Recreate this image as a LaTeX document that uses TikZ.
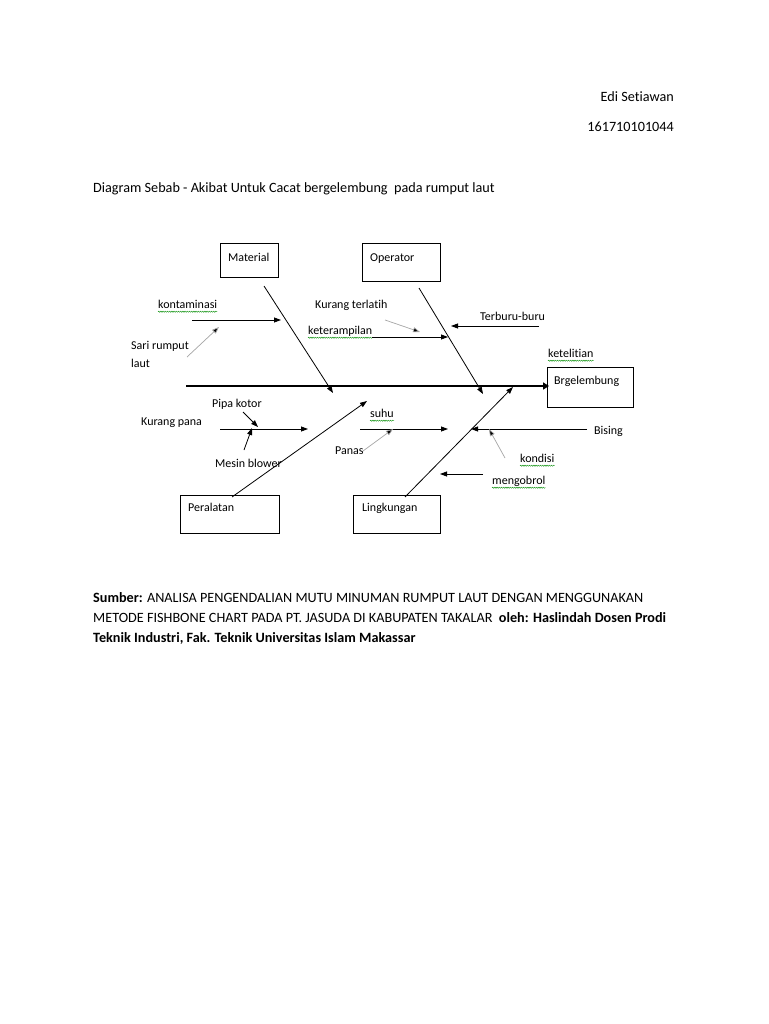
\documentclass[tikz,border=0pt]{standalone}
\usepackage{fontspec}
\setmainfont{Carlito}[Ligatures=NoCommon]
\usetikzlibrary{arrows.meta,decorations.pathmorphing}
\begin{document}
\begin{tikzpicture}[x=1pt,y=-1pt,
  txt/.style={inner sep=0pt,anchor=west,text height=8.5pt,text depth=2.5pt,font=\fontsize{12}{14}\selectfont},
  doc/.style={inner sep=0pt,text height=10pt,text depth=3pt,font=\fontsize{14.2}{17}\selectfont},
  catbox/.style={draw,line width=0.8pt},
  bone/.style={line width=0.8pt,-{Triangle[length=7pt,width=5pt]}},
  sub/.style={line width=0.8pt,-{Triangle[length=7pt,width=5pt]}},
  hint/.style={gray!70,line width=0.7pt,-{Triangle[length=7pt,width=5pt,fill=black]}},
  spine/.style={line width=2.6pt,-{Triangle[length=6pt,width=7pt]}},
  squig/.style={green!55!black,line width=0.4pt,decorate,decoration={snake,amplitude=0.6pt,segment length=2.2pt}}
]
\useasboundingbox[fill=white] (0,0) rectangle (768,1024);

% header
\node[doc,anchor=east] (name) at (674,98) {Edi Setiawan};
\node[doc,anchor=east] (nim) at (674,128) {161710101044};
\node[doc,anchor=west] (title) at (93,189) {Diagram Sebab - Akibat Untuk Cacat bergelembung\ \ pada rumput laut};

% category boxes
\draw[catbox] (220,243) rectangle (278,277);
\node[txt] (mat) at (228,258) {Material};
\draw[catbox] (362,243) rectangle (440,281);
\node[txt] (ope) at (370,258) {Operator};
\draw[catbox] (180,495) rectangle (279,533);
\node[txt] (per) at (188,508) {Peralatan};
\draw[catbox] (353,495) rectangle (440,533);
\node[txt] (lin) at (362,508) {Lingkungan};
\draw[catbox] (547,367) rectangle (633,407);
\node[txt] (eff) at (554,381) {Brgelembung};

% spine
\coordinate (sp0) at (186,386);
\coordinate (sp1) at (549,386);
\draw[spine] (sp0) -- (sp1);

% main bones
\coordinate (mb0) at (264,286); \coordinate (mb1) at (333,393);
\coordinate (ob0) at (419,288); \coordinate (ob1) at (483,394);
\coordinate (pb0) at (232,497); \coordinate (pb1) at (367,401);
\coordinate (lb0) at (405,497); \coordinate (lb1) at (513,387);
\draw[bone] (mb0) -- (mb1);
\draw[bone] (ob0) -- (ob1);
\draw[bone] (pb0) -- (pb1);
\draw[bone] (lb0) -- (lb1);

% labels
\node[txt] (kont) at (158,305) {kontaminasi};
\node[txt] (sari) at (131,346) {Sari rumput};
\node[txt] (laut) at (131,364) {laut};
\node[txt] (kter) at (315,305) {Kurang terlatih};
\node[txt] (ketr) at (308,331) {keterampilan};
\node[txt] (terb) at (480,317) {Terburu-buru};
\node[txt] (ketl) at (548,354) {ketelitian};
\node[txt] (pipa) at (212,404) {Pipa kotor};
\node[txt] (kpan) at (141,422) {Kurang pana};
\node[txt] (mesin) at (215,464) {Mesin blower};
\node[txt] (suhu) at (370,414) {suhu};
\node[txt] (panas) at (335,451) {Panas};
\node[txt] (bis) at (594,431) {Bising};
\node[txt] (kond) at (520,459) {kondisi};
\node[txt] (meng) at (492,481) {mengobrol};

% spelling squiggles
\foreach \n in {kont,ketr,ketl,suhu,kond,meng}
  \draw[squig] ([yshift=-1pt]\n.south west) -- ([yshift=-1pt]\n.south east);

% sub-cause arrows
\coordinate (k0) at (192,320); \coordinate (k1) at (281,320);
\draw[sub] (k0) -- (k1);
\coordinate (s0) at (187,357); \coordinate (s1) at (219,327);
\draw[hint] (s0) -- (s1);
\coordinate (kt0) at (385,320); \coordinate (kt1) at (420,332);
\draw[hint] (kt0) -- (kt1);
\coordinate (ke0) at (372,337); \coordinate (ke1) at (448,337);
\draw[sub] (ke0) -- (ke1);
\coordinate (t0) at (539,326); \coordinate (t1) at (451,326);
\draw[sub] (t0) -- (t1);

\coordinate (p0) at (220,429); \coordinate (p1) at (308,429);
\draw[sub] (p0) -- (p1);
\coordinate (pk0) at (243,412); \coordinate (pk1) at (258,427);
\draw[sub] (pk0) -- (pk1);
\coordinate (mb2) at (244,450); \coordinate (mb3) at (252,428);
\draw[sub] (mb2) -- (mb3);

\coordinate (u0) at (360,429); \coordinate (u1) at (448,429);
\draw[sub] (u0) -- (u1);
\coordinate (pa0) at (363,451); \coordinate (pa1) at (393,429);
\draw[hint] (pa0) -- (pa1);

\coordinate (b0) at (587,429); \coordinate (b1) at (471,429);
\draw[sub] (b0) -- (b1);
\coordinate (kd0) at (505,458); \coordinate (kd1) at (489,429);
\draw[hint] (kd0) -- (kd1);
\coordinate (mg0) at (483,474); \coordinate (mg1) at (440,474);
\draw[sub] (mg0) -- (mg1);

% source
\node[doc,anchor=west] (src1) at (93,599) {\textbf{Sumber:} ANALISA PENGENDALIAN MUTU MINUMAN RUMPUT LAUT DENGAN MENGGUNAKAN};
\node[doc,anchor=west] (src2) at (93,619) {METODE FISHBONE CHART PADA PT. JASUDA DI KABUPATEN TAKALAR\ \ \textbf{oleh: Haslindah Dosen Prodi}};
\node[doc,anchor=west] (src3) at (93,639) {\textbf{Teknik Industri, Fak. Teknik Universitas Islam Makassar}};
\end{tikzpicture}
\end{document}
